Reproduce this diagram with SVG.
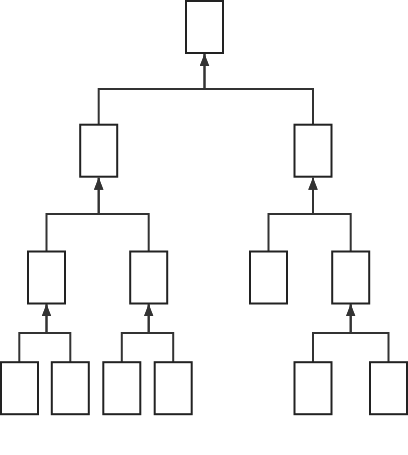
<svg xmlns="http://www.w3.org/2000/svg" width="408" height="455" viewBox="0 0 408 455">
<style>
.n{fill:#fff;stroke:#222;stroke-width:2}
.e{fill:none;stroke:#333;stroke-width:2;marker-end:url(#a)}
</style>
<defs>
<marker id="a" markerUnits="userSpaceOnUse" markerWidth="12" markerHeight="10" refX="12" refY="4.7" orient="auto" viewBox="0 0 12 9.4">
<path d="M0,0 L12,4.7 L0,9.4 z" fill="#333"/>
</marker>
</defs>
<rect width="408" height="455" fill="#fff"/>
<g id="connectors">
<path class="e" d="M98.7,124.5 V89 H204.5 V54"/>
<path class="e" d="M313,124.5 V89 H204.5 V54"/>
<path class="e" d="M46.5,251.5 V214 H98.7 V177.7"/>
<path class="e" d="M148.7,251.5 V214 H98.7 V177.7"/>
<path class="e" d="M268.5,251.5 V214 H313 V177.7"/>
<path class="e" d="M350.7,251.5 V214 H313 V177.7"/>
<path class="e" d="M19.3,362 V333 H46.5 V304.3"/>
<path class="e" d="M70.3,362 V333 H46.5 V304.3"/>
<path class="e" d="M121.8,362 V333 H148.7 V304.3"/>
<path class="e" d="M173.2,362 V333 H148.7 V304.3"/>
<path class="e" d="M313,362 V333 H350.7 V304.3"/>
<path class="e" d="M388.5,362 V333 H350.7 V304.3"/>
</g>
<g id="root"><rect class="n" x="186" y="1" width="37" height="52"/></g>
<g id="n1"><rect class="n" x="80.2" y="124.7" width="37" height="52"/></g>
<g id="n2"><rect class="n" x="294.5" y="124.7" width="37" height="52"/></g>
<g id="n11"><rect class="n" x="28" y="251.5" width="37" height="52"/></g>
<g id="n12"><rect class="n" x="130.2" y="251.5" width="37" height="52"/></g>
<g id="n21"><rect class="n" x="250" y="251.5" width="37" height="52"/></g>
<g id="n22"><rect class="n" x="332.2" y="251.5" width="37" height="52"/></g>
<g id="n111"><rect class="n" x="1" y="362.2" width="37" height="52"/></g>
<g id="n112"><rect class="n" x="51.8" y="362.2" width="37" height="52"/></g>
<g id="n121"><rect class="n" x="103.3" y="362.2" width="37" height="52"/></g>
<g id="n122"><rect class="n" x="154.7" y="362.2" width="37" height="52"/></g>
<g id="n221"><rect class="n" x="294.5" y="362.2" width="37" height="52"/></g>
<g id="n222"><rect class="n" x="370" y="362.2" width="37" height="52"/></g>
</svg>
